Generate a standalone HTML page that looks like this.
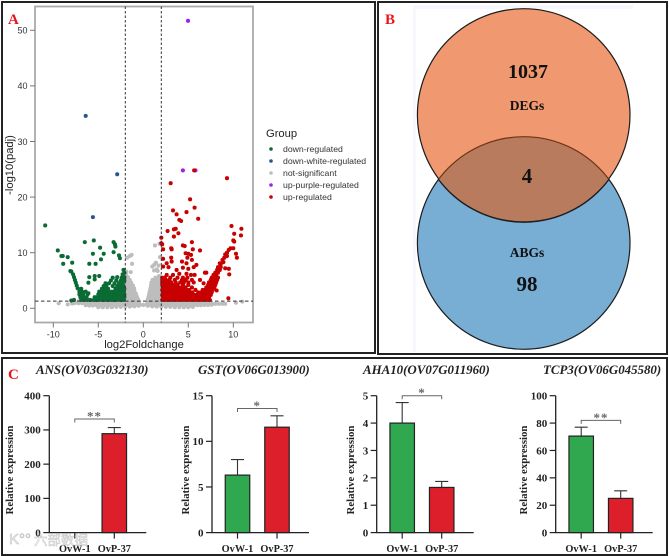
<!DOCTYPE html>
<html lang="en">
<head>
<meta charset="utf-8">
<title>Volcano plot, Venn diagram and relative expression bars</title>
<style>
html,body{margin:0;padding:0;background:#fff;width:669px;height:556px;overflow:hidden}
svg{display:block;filter:blur(0.35px)}
.sans{font-family:"Liberation Sans",sans-serif}
.serif{font-family:"Liberation Serif",serif}
</style>
</head>
<body>
<svg id="fig" width="669" height="556" viewBox="0 0 669 556" xmlns="http://www.w3.org/2000/svg">
  <rect x="0" y="0" width="669" height="556" fill="#fff"/>
  <rect x="2" y="2" width="373" height="351" fill="none" stroke="#222" stroke-width="2"/>
  <rect x="378" y="2" width="289" height="352" fill="none" stroke="#222" stroke-width="2"/>
  <rect x="2" y="358" width="665" height="197" fill="none" stroke="#222" stroke-width="2"/>
  <text class="serif" x="8" y="24" font-size="15" font-weight="bold" fill="#e8141c">A</text>
  <text class="serif" x="385" y="24" font-size="15" font-weight="bold" fill="#e8141c">B</text>
  <text class="serif" x="8" y="379" font-size="15" font-weight="bold" fill="#e8141c">C</text>

  <g id="volcano"></g>

  <g class="sans">
    <text x="266" y="137" font-size="11.2" fill="#222">Group</text>
    <circle cx="271" cy="149" r="1.8" fill="#0a6b35"/>
    <text x="283" y="152" font-size="8.7" fill="#333">down-regulated</text>
    <circle cx="271" cy="161" r="1.8" fill="#2a5590"/>
    <text x="283" y="164" font-size="8.7" fill="#333">down-white-regulated</text>
    <circle cx="271" cy="173" r="1.8" fill="#bdbdbd"/>
    <text x="283" y="176" font-size="8.7" fill="#333">not-significant</text>
    <circle cx="271" cy="185" r="1.8" fill="#a020f0"/>
    <text x="283" y="188" font-size="8.7" fill="#333">up-purple-regulated</text>
    <circle cx="271" cy="197" r="1.8" fill="#c80000"/>
    <text x="283" y="200" font-size="8.7" fill="#333">up-regulated</text>
  </g>

  <g>
    <rect x="413" y="5" width="220" height="347" fill="#f7f8fd"/>
    <rect x="416" y="9" width="217" height="343" fill="#fff"/>
    <circle cx="523.7" cy="243" r="106.3" fill="#78add4" stroke="#1c1c1c" stroke-width="1.2"/>
    <circle cx="523.7" cy="115" r="106.3" fill="#f0986f" stroke="#1c1c1c" stroke-width="1.2"/>
    <clipPath id="degClip"><circle cx="523.7" cy="115" r="106.3"/></clipPath>
    <circle cx="523.7" cy="243" r="106.3" fill="#b97b5e" stroke="#6e3515" stroke-width="1.2" clip-path="url(#degClip)"/>
    <path d="M438.5 179.5 A106.3 106.3 0 0 0 608.9 179.5" fill="none" stroke="#1c1c1c" stroke-width="1.2"/>
    <g class="serif" font-weight="bold" text-anchor="middle" fill="#111">
      <text x="528" y="78" font-size="20">1037</text>
      <text x="527" y="110" font-size="13.5">DEGs</text>
      <text x="527" y="183" font-size="21">4</text>
      <text x="527" y="257" font-size="13.5">ABGs</text>
      <text x="527" y="291" font-size="21">98</text>
    </g>
  </g>

  <g id="bars"></g>

  <g opacity="0.75">
    <text class="sans" x="9" y="544" font-size="15" fill="#fff" stroke="#aaa" stroke-width="0.6">K°°</text>
    <text class="sans" x="34" y="545" font-size="13.5" fill="#fff" stroke="#aaa" stroke-width="0.5" style="font-family:'Liberation Sans','Noto Sans CJK SC',sans-serif">六部数据</text>
  </g>
</svg>

<script>
/* ---------- Volcano data: [log2FoldChange, -log10(padj)] ---------- */
const volcanoXTicks = [-10, -5, 0, 5, 10];
const volcanoYTicks = [0, 10, 20, 30, 40, 50];
const foldThresholds = [-2, 2];
const padjThreshold = 1.3;

const notSignificant = [
[-5,.2],[-4.5,.2],[-4,.2],[-3.5,.2],[-3,.25],[-2.5,.25],[-2,.3],[-1.5,.3],[-1,.35],[-.5,.45],[.5,.45],[1,.35],[1.5,.3],[2,.3],[2.5,.25],[3,.25],[3.5,.2],[4,.2],[4.5,.2],[5,.2],[5.5,.25],
[-6.4,.55],[-6,.5],[-5.6,.5],[-5.2,.55],[-4.8,.5],[-4.4,.55],[-4,.55],[-3.6,.55],[-3.2,.55],[-2.8,.6],[-2.4,.6],[-2,.6],[-1.6,.6],[-1.2,.6],[-.8,.6],[-.4,.65],[0,.6],[.4,.65],[.8,.6],[1.2,.6],[1.6,.6],[2,.6],[2.4,.55],[2.8,.55],[3.2,.55],[3.6,.55],[4,.5],[4.4,.55],[4.8,.5],[5.2,.5],[5.6,.55],[6,.55],[6.4,.55],[6.8,.6],[7.2,.6],[7.6,.65],
[-7.6,.95],[-7.2,.9],[-6.8,.9],[-6.4,.9],[-6,.9],[-5.6,.9],[-5.2,.9],[-4.8,.9],[-4.4,.9],[-4,.9],[-3.6,.9],[-3.2,.9],[-2.8,.9],[-2.4,.9],[-2,.95],[-1.6,.95],[-1.2,.95],[-.8,.95],[-.45,.95],[.45,.95],[.8,.95],[1.2,.95],[1.6,.95],[2,.95],[2.4,.9],[2.8,.9],[3.2,.9],[3.6,.9],[4,.9],[4.4,.9],[4.8,.9],[5.2,.9],[5.6,.9],[6,.9],[6.4,.9],[6.8,.9],[7.2,.85],[7.6,.85],[8,.8],[8.4,.8],[8.8,.8],
[-7.2,1.25],[-6.8,1.25],[-6.4,1.25],[-6,1.25],[-5.6,1.25],[-5.2,1.25],[-4.8,1.25],[-4.4,1.25],[-4,1.25],[-3.6,1.25],[-3.2,1.25],[-2.8,1.25],[-2.4,1.25],[-2,1.25],[-1.6,1.25],[-1.2,1.25],[-.8,1.25],[-.5,1.25],[.5,1.25],[.8,1.25],[1.2,1.25],[1.6,1.25],[2,1.25],[2.4,1.25],[2.8,1.25],[3.2,1.25],[3.6,1.25],[4,1.25],[4.4,1.25],[4.8,1.25],[5.2,1.25],[5.6,1.25],[6,1.25],[6.4,1.25],[6.8,1.25],[7.2,1.2],
[-1.9,1.6],[-1.6,1.6],[-1.3,1.6],[-1,1.6],[-.75,1.6],[-.58,1.6],[-1.9,2.1],[-1.6,2.1],[-1.3,2.1],[-1,2.1],[-.72,2.1],[-1.9,2.6],[-1.6,2.6],[-1.3,2.6],[-1.05,2.6],[-.82,2.6],[-1.9,3.1],[-1.6,3.1],[-1.3,3.1],[-.98,3.1],[-1.9,3.6],[-1.6,3.6],[-1.3,3.6],[-1.03,3.6],[-1.9,4.1],[-1.6,4.1],[-1.3,4.1],[-1.15,4.1],[-1.9,4.6],[-1.6,4.6],[-1.35,4.6],[-1.9,5.1],[-1.7,5.1],[-1.5,5.1],[-1.9,5.6],[-1.7,5.6],[-1.9,6],
[.5,1.6],[.8,1.6],[1.1,1.6],[1.4,1.6],[1.7,1.6],[1.95,1.6],[.58,2.1],[.85,2.1],[1.15,2.1],[1.45,2.1],[1.75,2.1],[1.95,2.1],[.65,2.6],[.95,2.6],[1.25,2.6],[1.55,2.6],[1.85,2.6],[.72,3.1],[1,3.1],[1.3,3.1],[1.6,3.1],[1.9,3.1],[.8,3.6],[1.1,3.6],[1.4,3.6],[1.7,3.6],[1.95,3.6],[.85,4.1],[1.15,4.1],[1.45,4.1],[1.75,4.1],[.9,4.6],[1.2,4.6],[1.5,4.6],[1.8,4.6],[1.02,5.1],[1.3,5.1],[1.6,5.1],[1.9,5.1],[1.35,5.5],[1.65,5.5],[1.9,5.5],[1.75,5.8],
[-1.8,9.1],[-1.5,9.4],[-1.3,9.6],[-1.25,8],[-1.9,6.6],[-1.4,6.5],[1.3,11.3],[1.8,11.6],[1.85,9.2],[1.4,8.2],[1.2,7.8],[1,7.5],[1.5,7],[1.2,6.8],[1.6,6.7],[1.7,7.7],
[-9.4,.9],[-8.4,.7],[-7.9,.85],[10.3,1],[11,1.2],[9.1,.8]
];

const downRegulated = [
[-10.9,14.9],[-9.5,10.4],[-9.1,9.4],[-8.95,9.4],[-8.4,9.2],[-7.9,8.2],[-8.9,8],[-8.1,6.7],[-8,6.6],[-6.5,11.9],[-5.5,12.2],[-4.8,10.9],[-5.6,9.8],[-4.4,9.8],[-3.3,11.9],[-3.15,11.5],[-3.1,11.1],[-3.3,10.1],[-2.7,9.5],[-2.6,9],[-4.7,8.8],[-6,8],[-5.3,8],[-6,5.6],[-5.4,5.8],[-5.4,5.2],[-6.1,4.6],[-4.9,5.8],
[-7.8,6.1],[-7.7,5.6],[-7.6,5.1],[-7.5,4.6],[-7.4,4.1],[-7.3,3.6],[-6.9,3.5],[-6.4,3],[-6.8,3],[-6.1,2.7],[-8,1.4],[-7.7,1.5],
[-6.9,1.5],[-6.6,1.5],[-6.2,1.5],[-5.9,1.5],[-5.5,1.5],[-5.2,1.5],[-4.9,1.5],[-4.5,1.5],[-4.2,1.5],[-3.9,1.5],[-3.5,1.5],[-3.2,1.5],[-2.9,1.5],[-2.5,1.5],[-2.2,1.5],
[-7,2],[-6.6,2],[-6.3,2],[-5.4,2],[-5.1,2],[-4.8,2],[-4.4,2],[-4.1,2],[-3.8,2],[-3.4,2],[-3.1,2],[-2.8,2],[-2.4,2],[-2.1,2],
[-7.1,2.5],[-6.7,2.5],[-6.2,2.5],[-5,2.5],[-4.7,2.5],[-4.3,2.5],[-4,2.5],[-3.7,2.5],[-3.3,2.5],[-3,2.5],[-2.7,2.5],[-2.3,2.5],[-2.1,2.5],
[-7.1,3],[-4.9,3],[-4.5,3],[-4.2,3],[-3.9,3],[-3.5,3],[-3.2,3],[-2.9,3],[-2.5,3],[-2.2,3],
[-4.6,3.5],[-4.3,3.5],[-3.9,3.5],[-3.1,3.5],[-2.8,3.5],[-2.4,3.5],[-2.1,3.5],
[-4.4,4],[-4.1,4],[-3.4,4],[-2.9,4],[-2.6,4],[-2.2,4],
[-4.2,4.5],[-3.8,4.5],[-3.2,4.5],[-2.7,4.5],[-2.3,4.5],
[-3.6,5],[-3,5],[-2.5,5],[-2.1,5],[-3.4,5.5],[-2.9,5.6],[-2.4,5.5],[-2.1,5.6],[-2.3,6.1],[-2.1,6.4],[-2.2,6.9]
];

const downWhiteRegulated = [[-6.4,34.6],[-2.9,24.1],[-5.6,16.4]];

const upPurpleRegulated = [[4.97,51.7],[4.4,24.8],[5.8,24.8]];

const upRegulated = [
[9.3,23.4],[3.04,22.5],[5.65,24.8],[5.2,19.6],[5.7,18.1],[3.3,17.6],[3.7,16.9],[4.8,17.3],[4,15.9],[4.2,15.7],[6.1,16.1],[2.7,13.9],[3.4,14.2],[3.6,14.3],[3.4,12.9],[3.9,13.5],[9.8,14.8],[10.1,13.4],[10.9,14.3],[10.85,13.1],[10,12.2],[10.1,12],[2,12.7],[2,11.7],[2.1,11.5],[2.2,10.6],[3.1,10.8],[3.15,10.6],[4.4,11.3],[4.6,11.2],[5.4,11.9],[5.5,10.6],[6.3,10.4],[5,9.8],[4.7,9.9],[5.3,9.6],[10.3,9.8],[10.4,9.1],[10,10.8],[9.7,10.8],[9.5,10.5],[9.3,9.4],[9,9.1],[8.8,8.7],[8.5,8.1],[9.1,7.2],[9.5,7.1],[9.55,6.1],[8.15,3.2],[9.45,1.8],[9.3,10],[9.1,9.7],
[2.2,7.5],[2.6,8.1],[3.15,8.4],[2.8,7.4],[4.3,8.4],[4.8,8.1],[5.4,8.7],[5.9,7.8],[3.7,6.9],[4.4,7.3],[5,7.1],[5.6,7.4],[6.85,6.4],[7,6.4],[5.7,6],[6.3,5.1],[4,6.2],[4.8,6.2],[5.3,6],[3.3,6],[2.6,6],[6.7,4.5],[2.2,8.9],[3.1,9.1],[4.9,9.1],
[2.1,1.5],[2.4,1.5],[2.7,1.5],[3,1.5],[3.3,1.5],[3.6,1.5],[3.9,1.5],[4.2,1.5],[4.5,1.5],[4.8,1.5],[5.1,1.5],[5.4,1.5],[5.7,1.5],[6,1.5],[6.3,1.5],[6.6,1.5],[6.9,1.5],[7.2,1.5],[7.4,1.5],
[2.2,1.95],[2.5,1.95],[2.8,1.95],[3.1,1.95],[3.4,1.95],[3.7,1.95],[4,1.95],[4.3,1.95],[4.6,1.95],[4.9,1.95],[5.2,1.95],[5.5,1.95],[5.8,1.95],[6.1,1.95],[6.4,1.95],[6.7,1.95],[7,1.95],[7.3,1.95],
[2.1,2.4],[2.4,2.4],[2.7,2.4],[3,2.4],[3.3,2.4],[3.6,2.4],[3.9,2.4],[4.2,2.4],[4.5,2.4],[4.8,2.4],[5.1,2.4],[5.4,2.4],[5.7,2.4],[6,2.4],[6.3,2.4],[6.6,2.4],[6.9,2.4],[7.2,2.4],[7.5,2.4],
[2.2,2.85],[2.5,2.85],[2.8,2.85],[3.1,2.85],[3.4,2.85],[3.7,2.85],[4,2.85],[4.3,2.85],[4.6,2.85],[4.9,2.85],[5.2,2.85],[5.45,2.85],[6.1,2.85],[6.4,2.85],[6.7,2.85],[7,2.85],[7.3,2.85],[7.6,2.85],
[2.1,3.3],[2.4,3.3],[2.7,3.3],[3,3.3],[3.3,3.3],[3.6,3.3],[3.9,3.3],[4.2,3.3],[4.5,3.3],[4.8,3.3],[5.1,3.3],[5.8,3.3],[6.6,3.3],[6.9,3.3],[7.2,3.3],[7.5,3.3],[7.7,3.3],
[2.2,3.75],[2.5,3.75],[2.8,3.75],[3.1,3.75],[3.4,3.75],[3.7,3.75],[4,3.75],[4.3,3.75],[4.7,3.75],[5.4,3.75],[7,3.75],[7.3,3.75],[7.6,3.75],[7.9,3.75],
[2.1,4.2],[2.4,4.2],[2.7,4.2],[3.1,4.2],[3.4,4.2],[3.8,4.2],[4.4,4.2],[5,4.2],[7.2,4.2],[7.5,4.2],[7.8,4.2],[8,4.2],
[2.1,4.65],[2.4,4.65],[2.8,4.65],[3.1,4.65],[3.6,4.65],[4.1,4.65],[4.5,4.65],[5,4.65],[5.6,4.65],[7.3,4.65],[7.6,4.65],[7.9,4.65],[8.1,4.65],
[2.1,5.1],[2.5,5.1],[2.9,5.1],[3.5,5.1],[4.3,5.1],[4.7,5.1],[5.4,5.1],[7.5,5.1],[7.8,5.1],[8.2,5.1],
[2.1,5.5],[2.4,5.5],[3,5.5],[3.8,5.5],[4.4,5.5],[4.9,5.5],[7.6,5.5],[7.9,5.5],[8.3,5.5],
[7.8,6],[8.1,6],[8,6.4],[8.3,6.4],[8.2,6.9],[8.5,6.9],[8.3,7.4],[8.6,7.4],[8.6,7.9],[8.9,8.3]
];

/* ---------- Bar chart data ---------- */
const geneTitles = ["ANS(OV03G032130)", "GST(OV06G013900)", "AHA10(OV07G011960)", "TCP3(OV06G045580)"];
const sampleNames = ["OvW-1", "OvP-37"];
const ovw1Means = [0, 6.3, 4.0, 70.5];
const ovw1Upper = [0, 8.0, 4.75, 77];
const ovp37Means = [289, 11.55, 1.65, 25];
const ovp37Upper = [307, 12.8, 1.87, 30.5];
const axisMaxima = [400, 15, 5, 100];
const tickLabels = [
  ["0", "100", "200", "300", "400"],
  ["0", "5", "10", "15"],
  ["0", "1", "2", "3", "4", "5"],
  ["0", "20", "40", "60", "80", "100"]
];
const bracketLevels = [332, 13.6, 5, 82];
const significance = ["**", "*", "*", "**"];

/* ---------- Layout constants ---------- */
const SVG_NS = "http://www.w3.org/2000/svg";
const make = (parent, tag, attrs, text) => {
  const el = document.createElementNS(SVG_NS, tag);
  for (const k in attrs) el.setAttribute(k, attrs[k]);
  if (text !== undefined) el.textContent = text;
  parent.appendChild(el);
  return el;
};

/* ---------- Volcano plot ---------- */
const vx = v => 143.3 + 9 * v;
const vy = v => 308.3 - 5.56 * v;
const FRAME = { left: 35, right: 253, top: 6.5, bottom: 322.5 };
const volcano = document.getElementById("volcano");

const frame = make(volcano, "rect", { x: FRAME.left, y: FRAME.top, width: FRAME.right - FRAME.left, height: FRAME.bottom - FRAME.top, fill: "#fff", stroke: "#aaa", "stroke-width": 1.8 });



function drawPoints(points, color, name) {
  const g = make(volcano, "g", { fill: color });
  
  
  points.forEach(p => {
    const c = make(g, "circle", { cx: vx(p[0]).toFixed(2), cy: vy(p[1]).toFixed(2), r: 2.05 });
    
    
  });
}
drawPoints(notSignificant, "#bdbdbd", "series-not-significant");
drawPoints(downRegulated, "#0a6b35", "series-down-regulated");
drawPoints(downWhiteRegulated, "#2a5590", "series-down-white-regulated");
drawPoints(upPurpleRegulated, "#a020f0", "series-up-purple-regulated");
drawPoints(upRegulated, "#c80000", "series-up-regulated");

foldThresholds.forEach(t => {
  const l = make(volcano, "line", { x1: vx(t), x2: vx(t), y1: FRAME.top, y2: FRAME.bottom, stroke: "#333", "stroke-width": 1, "stroke-dasharray": "2.5 2" });
  
  
});
const padjLine = make(volcano, "line", { x1: FRAME.left, x2: FRAME.right, y1: vy(padjThreshold), y2: vy(padjThreshold), stroke: "#333", "stroke-width": 1, "stroke-dasharray": "3.5 2.5" });



volcanoYTicks.forEach(t => {
  const tick = make(volcano, "line", { x1: FRAME.left - 5, x2: FRAME.left, y1: vy(t), y2: vy(t), stroke: "#777", "stroke-width": 1 });
  
  
  const label = make(volcano, "text", { x: FRAME.left - 7.5, y: vy(t) + 3.3, "text-anchor": "end", "font-size": 9, fill: "#333", class: "sans" }, String(t));
  
  
});
volcanoXTicks.forEach(t => {
  const tick = make(volcano, "line", { x1: vx(t), x2: vx(t), y1: FRAME.bottom, y2: FRAME.bottom + 5, stroke: "#777", "stroke-width": 1 });
  
  
  const label = make(volcano, "text", { x: vx(t), y: FRAME.bottom + 15, "text-anchor": "middle", "font-size": 9, fill: "#333", class: "sans" }, String(t));
  
  
});
const xTitle = make(volcano, "text", { x: 144, y: 348, "text-anchor": "middle", "font-size": 11.2, fill: "#222", class: "sans" }, "log2Foldchange");


const yTitle = make(volcano, "text", { x: 0, y: 0, transform: "translate(13 165) rotate(-90)", "text-anchor": "middle", "font-size": 11.2, fill: "#222", class: "sans" }, "-log10(padj)");



/* ---------- Bar charts ---------- */
const bars = document.getElementById("bars");
const AXIS_LEFTS = [49.3, 212, 376.7, 555.7];
const TITLE_LEFTS = [36, 198, 363, 543];
const Y_TITLE_LEFTS = [13, 189, 354, 527];
const CHART = { zero: 532.6, top: 395.7, width: 97, barW: 24.5, first: 25.5, second: 65 };

geneTitles.forEach((gene, i) => {
  const left = AXIS_LEFTS[i];
  const yScale = v => CHART.zero - (v / axisMaxima[i]) * (CHART.zero - CHART.top);
  const xScale = k => left + (k === 0 ? CHART.first : CHART.second);
  const g = make(bars, "g", { class: "serif" });
  
  

  const title = make(g, "text", { x: TITLE_LEFTS[i], y: 374, "font-size": 12.9, "font-weight": "bold", "font-style": "italic", fill: "#222" }, gene);
  
  

  const yt = make(g, "text", { transform: "translate(" + Y_TITLE_LEFTS[i] + " 470) rotate(-90)", "text-anchor": "middle", "font-size": 10.8, "font-weight": "bold", fill: "#222" }, "Relative expression");
  
  

  const means = [ovw1Means[i], ovp37Means[i]];
  const uppers = [ovw1Upper[i], ovp37Upper[i]];
  const fills = ["#2fa84f", "#dc1f2b"];
  const barNames = ["bar-ovw-1", "bar-ovp-37"];
  means.forEach((m, k) => {
    const cx = xScale(k);
    if (m > 0) {
      const err = make(g, "path", { d: "M" + cx + " " + yScale(m) + "V" + yScale(uppers[k]) + "M" + (cx - 6.5) + " " + yScale(uppers[k]) + "H" + (cx + 6.5), fill: "none", stroke: "#333", "stroke-width": 1.1 });
      
      
      const bar = make(g, "rect", { x: cx - CHART.barW / 2, y: yScale(m), width: CHART.barW, height: CHART.zero - yScale(m), fill: fills[k], stroke: "#222", "stroke-width": 1.2 });
      
      
    }
    const tick = make(g, "line", { x1: cx, x2: cx, y1: CHART.zero, y2: CHART.zero + 6, stroke: "#222", "stroke-width": 1.2 });
    
    
    const lab = make(g, "text", { x: cx, y: 552, "text-anchor": "middle", "font-size": 10.3, "font-weight": "bold", fill: "#222" }, sampleNames[k]);
    
    
  });

  const axis = make(g, "path", { d: "M" + left + " " + CHART.top + "V" + CHART.zero + "H" + (left + CHART.width), fill: "none", stroke: "#222", "stroke-width": 1.3 });
  
  

  tickLabels[i].forEach(lbl => {
    const y = yScale(Number(lbl));
    const tick = make(g, "line", { x1: left - 6, x2: left, y1: y, y2: y, stroke: "#222", "stroke-width": 1.2 });
    
    
    const t = make(g, "text", { x: left - 8.5, y: y + 3.8, "text-anchor": "end", "font-size": 11, "font-weight": "bold", fill: "#222" }, lbl);
    
    
  });

  const by = yScale(bracketLevels[i]);
  const br = make(g, "path", { d: "M" + xScale(0) + " " + (by + 3.5) + "V" + by + "H" + xScale(1) + "V" + (by + 3.5), fill: "none", stroke: "#666", "stroke-width": 1 });
  
  
  const star = make(g, "text", { x: (xScale(0) + xScale(1)) / 2, y: by + 1.5, "text-anchor": "middle", "font-size": 13, "font-weight": "bold", fill: "#666", "letter-spacing": 1 }, significance[i]);
  
  
});
</script>
</body>
</html>
